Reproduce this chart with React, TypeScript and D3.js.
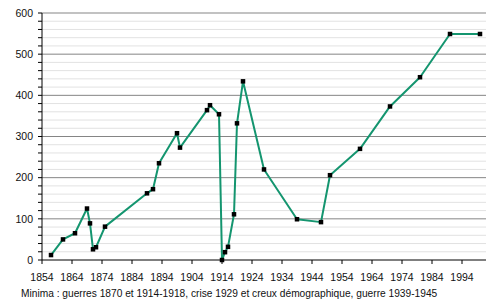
import React from "react";
import * as d3 from "d3";

const years = [1857, 1861, 1865, 1869, 1870, 1871, 1872, 1875, 1889, 1891, 1893, 1899, 1900, 1909, 1910, 1913, 1914, 1915, 1916, 1918, 1919, 1921, 1928, 1939, 1947, 1950, 1960, 1970, 1980, 1990, 2000];
const values = [12, 50, 65, 125, 89, 26, 31, 81, 162, 172, 235, 308, 273, 364, 376, 354, 0, 19, 32, 111, 332, 434, 220, 99, 92, 206, 270, 373, 444, 549, 549];
const xTicks = [1854, 1864, 1874, 1884, 1894, 1904, 1914, 1924, 1934, 1944, 1954, 1964, 1974, 1984, 1994];
const yMajor = [0, 100, 200, 300, 400, 500, 600];
const yMinor = d3.range(0, 601, 20);
const caption = "Minima : guerres 1870 et 1914-1918, crise 1929 et creux démographique, guerre 1939-1945";

export default function App() {
  const W = 497, H = 300;
  const x = d3.scaleLinear().domain([1854, 2002]).range([42, 486]);
  const y = d3.scaleLinear().domain([0, 600]).range([260, 13]);
  const pts = years.map((yr, i) => [x(yr), y(values[i])] as [number, number]);
  const line = d3.line()(pts) || "";
  const font = "'Liberation Sans', Arial, sans-serif";
  return (
    <svg width={W} height={H} style={{ position: "absolute", left: 0, top: 0, background: "#fff" }} fontFamily={font}>
      {yMinor.filter(v => v % 100 !== 0).map(v => (
        <line key={"mg" + v} x1={42} x2={486} y1={y(v)} y2={y(v)} stroke="#e2e2e2" strokeWidth={1} />
      ))}
      {yMajor.filter(v => v > 0).map(v => (
        <line key={"Mg" + v} x1={42} x2={486} y1={y(v)} y2={y(v)} stroke="#858585" strokeWidth={1} />
      ))}
      {yMinor.map(v => (
        <line key={"yt" + v} x1={38} x2={42} y1={y(v)} y2={y(v)} stroke="#000" strokeWidth={1} />
      ))}
      {yMajor.map(v => (
        <text key={"yl" + v} x={33} y={y(v)} dy="0.35em" textAnchor="end" fontSize={10.5} fill="#111">{v}</text>
      ))}
      {xTicks.map(t => (
        <g key={"xt" + t}>
          <line x1={x(t)} x2={x(t)} y1={260} y2={264} stroke="#000" strokeWidth={1} />
          <text x={x(t)} y={281} textAnchor="middle" fontSize={10.5} fill="#111">{t}</text>
        </g>
      ))}
      <line x1={42} x2={42} y1={13} y2={260} stroke="#000" strokeWidth={1} />
      <line x1={42} x2={486} y1={260} y2={260} stroke="#000" strokeWidth={1} />
      <path d={line} fill="none" stroke="#14956f" strokeWidth={2} strokeLinejoin="round" />
      {pts.map((p, i) => (
        <rect key={"m" + i} x={p[0] - 2.25} y={p[1] - 2.25} width={4.5} height={4.5} fill="#000" />
      ))}
      <text x={21} y={297} fontSize={10.2} fill="#111">{caption}</text>
    </svg>
  );
}
